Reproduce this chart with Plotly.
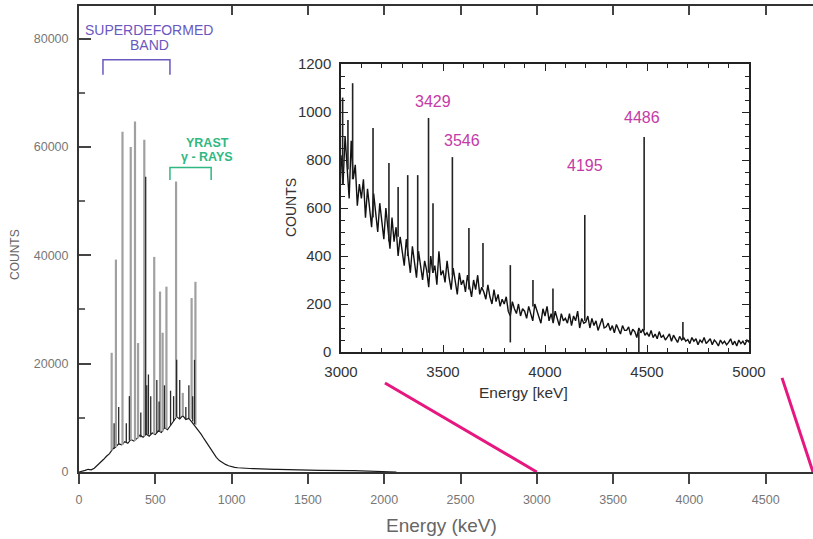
import numpy as np
import plotly.graph_objects as go

# ---------------- main spectrum (0-2 MeV) ----------------
# continuum sampled on a 20 keV channel grid
main_kev = np.arange(0, 2100, 20)
main_counts = [
    0, 100, 300, 500, 400, 700, 1200, 1700, 2300, 2900,
    3400, 4200, 4600, 5200, 5000, 5600, 5300, 6000, 5700, 6200,
    6800, 6400, 7000, 6600, 7200, 6900, 7600, 7300, 8200, 7800,
    8600, 9400, 10200, 9800, 10400, 9700, 9900, 9200, 8500, 7800,
    7000, 6100, 5200, 4300, 3400, 2700, 2100, 1700, 1400, 1150,
    950, 850, 780, 720, 700, 680, 650, 640, 600, 590,
    560, 540, 520, 500, 480, 470, 450, 430, 420, 400,
    390, 380, 360, 350, 340, 330, 320, 330, 310, 300,
    310, 290, 300, 280, 290, 270, 280, 260, 270, 250,
    260, 240, 250, 230, 240, 220, 230, 210, 200, 180,
    150, 100, 60, 20, 0,
]

# superdeformed-band and yrast lines (energy, foot, top)
sd_kev = [214, 242, 285, 339, 367, 387, 428, 493, 531, 548, 573, 636, 680, 738, 763]
sd_base = [4000, 4600, 5000, 5900, 5700, 6200, 6600, 7000, 7500, 7500, 8000, 10000, 10400, 9800, 8700]
sd_top = [22000, 39200, 62800, 60000, 64700, 23800, 61300, 39700, 33300, 25700, 34200, 53600, 14600, 32100, 35100]

# weaker lines drawn darker
dk_kev = [230, 260, 310, 330, 405, 437, 444, 455, 470, 510, 525, 560, 600, 620, 640, 660, 700, 720, 745, 757]
dk_base = [4300, 5200, 5500, 5800, 6400, 6800, 6900, 6900, 7000, 7200, 7400, 8000, 8600, 9400, 10200, 9800, 9700, 9900, 9300, 8800]
dk_top = [9000, 12000, 9000, 14000, 11000, 54500, 16000, 18000, 14000, 17000, 13000, 16000, 15000, 14000, 20700, 17000, 12000, 16000, 14000, 20700]

# ---------------- high-energy region (3-5 MeV) ----------------
hi_kev = np.arange(3000, 5001, 10)
hi_counts = [
    820, 700, 900, 760, 640, 880, 720, 780, 610, 700,
    640, 720, 560, 680, 600, 520, 660, 580, 500, 620,
    540, 470, 600, 500, 430, 560, 460, 520, 400, 480,
    420, 360, 470, 390, 330, 440, 380, 310, 420, 350,
    300, 380, 340, 270, 400, 330, 360, 280, 420, 320,
    340, 290, 380, 310, 260, 350, 300, 240, 330, 280,
    300, 250, 320, 270, 230, 300, 260, 320, 240, 270,
    250, 220, 280, 230, 200, 260, 210, 240, 190, 220,
    200, 230, 170, 150, 210, 180, 160, 200, 150, 180,
    170, 140, 190, 160, 130, 200, 170, 150, 120, 180,
    150, 190, 130, 160, 120, 170, 140, 110, 160, 130,
    140, 120, 160, 110, 150, 130, 170, 100, 140, 120,
    125, 150, 100, 140, 110, 130, 90, 120, 140, 100,
    105, 120, 90, 110, 80, 115, 95, 75, 110, 90,
    90, 105, 70, 95, 85, 60, 100, 80, 95, 70,
    80, 65, 90, 60, 75, 55, 85, 60, 70, 50,
    62, 75, 45, 70, 55, 40, 65, 50, 60, 45,
    52, 35, 60, 45, 55, 30, 50, 40, 60, 35,
    45, 55, 30, 50, 40, 25, 50, 35, 45, 30,
    40, 55, 30, 45, 25, 50, 35, 45, 30, 50,
    40,
]

hi_line_kev = [3008, 3034, 3057, 3157, 3235, 3280, 3327, 3376, 3429, 3451,
               3546, 3627, 3696, 3830, 3941, 4039, 4195, 4460, 4486, 4676]
hi_line_base = [700, 760, 720, 560, 460, 480, 400, 380, 330, 330,
                320, 260, 270, 40, 190, 130, 130, 0, 90, 50]
hi_line_top = [1060, 967, 1120, 933, 787, 687, 737, 737, 975, 620,
               812, 517, 454, 362, 300, 265, 571, 85, 896, 125]

# labelled transitions
label_kev = [3429, 3546, 4195, 4486]
label_counts = [1042, 883, 775, 979]
label_text = ["3429", "3546", "4195", "4486"]

# zoom connectors: (energy, counts) pairs in the main frame
conn1_kev, conn1_counts = [2005, 3000], [16440, 0]
conn2_kev, conn2_counts = [4607, 4810], [17370, 0]

# band brackets (main frame)
sd_bracket_kev, sd_bracket_counts = [157, 157, 596, 596], [73300, 76100, 76100, 73300]
yr_bracket_kev, yr_bracket_counts = [596, 596, 866, 866], [53900, 56200, 56200, 53900]


def spikes(energies, bases, tops):
    xs, ys = [], []
    for e, b, t in zip(energies, bases, tops):
        xs += [e, e, None]
        ys += [b, t, None]
    return xs, ys


FONT = "Liberation Sans, Arial, sans-serif"
SD_COLOR = "#6a58c0"
YR_COLOR = "#2fb882"
PINK = "#e6177e"
LABEL_PINK = "#c43aa6"

fig = go.Figure()

# main spectrum
fig.add_trace(go.Scatter(x=main_kev, y=main_counts, mode="lines",
                         line=dict(color="#1a1a1a", width=1.2), xaxis="x", yaxis="y"))
x, y = spikes(sd_kev, sd_base, sd_top)
fig.add_trace(go.Scatter(x=x, y=y, mode="lines", line=dict(color="#a0a0a0", width=2.2),
                         xaxis="x", yaxis="y"))
x, y = spikes(dk_kev, dk_base, dk_top)
fig.add_trace(go.Scatter(x=x, y=y, mode="lines", line=dict(color="#2a2a2a", width=1.3),
                         xaxis="x", yaxis="y"))

# brackets
fig.add_trace(go.Scatter(x=sd_bracket_kev, y=sd_bracket_counts, mode="lines",
                         line=dict(color=SD_COLOR, width=1.5), xaxis="x", yaxis="y"))
fig.add_trace(go.Scatter(x=yr_bracket_kev, y=yr_bracket_counts, mode="lines",
                         line=dict(color=YR_COLOR, width=1.5), xaxis="x", yaxis="y"))

# zoom connectors
for cx, cy in ((conn1_kev, conn1_counts), (conn2_kev, conn2_counts)):
    fig.add_trace(go.Scatter(x=cx, y=cy, mode="lines", line=dict(color=PINK, width=3),
                             xaxis="x", yaxis="y", cliponaxis=False))

# inset spectrum
fig.add_trace(go.Scatter(x=hi_kev, y=hi_counts, mode="lines",
                         line=dict(color="#111111", width=1.4), xaxis="x2", yaxis="y2"))
x, y = spikes(hi_line_kev, hi_line_base, hi_line_top)
fig.add_trace(go.Scatter(x=x, y=y, mode="lines", line=dict(color="#222222", width=1.6),
                         xaxis="x2", yaxis="y2"))

# top frame of the main panel
fig.add_trace(go.Scatter(x=[0], y=[0], mode="markers", marker=dict(opacity=0),
                         xaxis="x3", yaxis="y", hoverinfo="skip"))

W, H = 813, 539
main_dom_x = [79 / W, 1.0]
main_dom_y = [(H - 472) / H, (H - 6) / H]
ins_dom_x = [341 / W, 749 / W]
ins_dom_y = [(H - 352) / H, (H - 64) / H]

fig.update_layout(
    width=W, height=H,
    margin=dict(l=0, r=0, t=0, b=0, autoexpand=False),
    paper_bgcolor="white", plot_bgcolor="white",
    showlegend=False,
    font=dict(family=FONT),
    xaxis=dict(domain=main_dom_x, range=[0, 4810], anchor="y", automargin=False,
               tickvals=list(range(0, 5000, 500)), ticks="outside", ticklen=10,
               tickwidth=1.5, tickcolor="#444", showline=True, linecolor="#333",
               linewidth=2, showgrid=False, zeroline=False,
               tickfont=dict(size=12.5, color="#777"), ticklabelstandoff=5),
    xaxis3=dict(overlaying="x", matches="x", side="top", anchor="y", automargin=False,
                tickvals=list(range(0, 5000, 500)), ticks="inside", ticklen=9,
                tickwidth=1.5, tickcolor="#444", showline=True, linecolor="#333",
                linewidth=2, showgrid=False, zeroline=False, showticklabels=False),
    yaxis=dict(domain=main_dom_y, range=[0, 86000], anchor="x", automargin=False,
               tickvals=list(range(0, 80001, 20000)), tickformat="d",
               ticks="inside", ticklen=12, tickwidth=1.5, tickcolor="#444",
               minor=dict(dtick=10000, ticks="inside", ticklen=6, tickcolor="#666"),
               showline=True, linecolor="#333", linewidth=2, showgrid=False,
               zeroline=False, tickfont=dict(size=12.5, color="#777"),
               ticklabelstandoff=6),
    xaxis2=dict(domain=ins_dom_x, range=[3000, 5000], anchor="y2", automargin=False,
                tickvals=[3000, 3500, 4000, 4500, 5000], ticks="inside", ticklen=7,
                tickcolor="#222", minor=dict(dtick=100, ticks="inside", ticklen=4),
                mirror="ticks", showline=True, linecolor="#222", linewidth=1.5,
                showgrid=False, zeroline=False,
                tickfont=dict(size=15, color="#333"), ticklabelstandoff=5),
    yaxis2=dict(domain=ins_dom_y, range=[0, 1200], anchor="x2", automargin=False,
                tickvals=list(range(0, 1201, 200)), ticks="inside", ticklen=7,
                tickcolor="#222", minor=dict(dtick=50, ticks="inside", ticklen=4),
                mirror="ticks", showline=True, linecolor="#222", linewidth=1.5,
                showgrid=False, zeroline=False,
                tickfont=dict(size=15, color="#333"), ticklabelstandoff=5),
)

ann = []
common = dict(showarrow=False, xanchor="center", yanchor="middle")
# axis titles
ann.append(dict(text="Energy (keV)", xref="paper", yref="paper", x=442 / W, y=(H - 525) / H,
                font=dict(size=19, color="#666"), **common))
ann.append(dict(text="COUNTS", xref="paper", yref="paper", x=15 / W, y=(H - 255) / H,
                textangle=-90, font=dict(size=12, color="#666"), **common))
ann.append(dict(text="Energy [keV]", xref="paper", yref="paper", x=523 / W, y=(H - 393) / H,
                font=dict(size=15.5, color="#333"), **common))
ann.append(dict(text="COUNTS", xref="paper", yref="paper", x=291 / W, y=(H - 208) / H,
                textangle=-90, font=dict(size=14, color="#333"), **common))

# band labels
ann.append(dict(text="SUPERDEFORMED", x=459, y=81500, xref="x", yref="y",
                font=dict(size=14, color=SD_COLOR), **common))
ann.append(dict(text="BAND", x=459, y=78800, xref="x", yref="y",
                font=dict(size=14, color=SD_COLOR), **common))
ann.append(dict(text="<b>YRAST</b>", x=839, y=60800, xref="x", yref="y",
                font=dict(size=12.5, color=YR_COLOR), **common))
ann.append(dict(text="<b>γ - RAYS</b>", x=839, y=58200, xref="x", yref="y",
                font=dict(size=12.5, color=YR_COLOR), **common))

# labelled lines in the inset
shifts = [4, 10, 0, -2]
for e, c, t, s in zip(label_kev, label_counts, label_text, shifts):
    ann.append(dict(text=t, x=e, y=c, xref="x2", yref="y2", xshift=s,
                    font=dict(size=16, color=LABEL_PINK), **common))

fig.update_layout(annotations=ann)

fig.write_html("out.html")
